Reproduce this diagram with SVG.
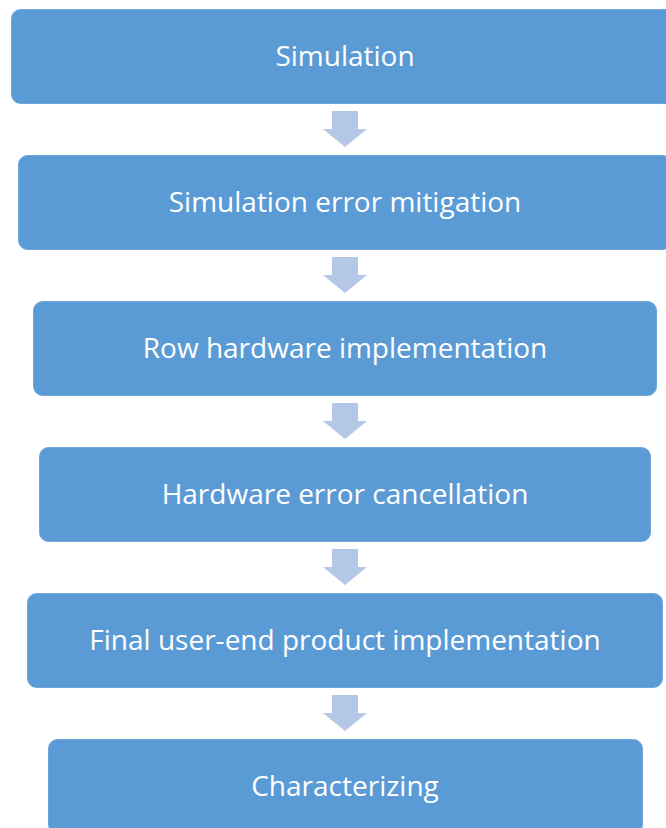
<svg xmlns="http://www.w3.org/2000/svg" width="666" height="828" viewBox="0 0 666 828">
<defs>
<style>
.box{fill:#5b9bd5;stroke:#6ea7dc;stroke-width:1}
.lbl{font-family:"Open Sans","Liberation Sans",sans-serif;font-size:28px;fill:#ffffff;text-anchor:middle;dominant-baseline:central}
.arr{fill:#b4c7e7}
</style>
<path id="arrow" class="arr" d="M-13,0 H13 V18 H22 L0,36 L-22,18 H-13 Z"/>
</defs>
<rect width="666" height="828" fill="#ffffff"/>
<g id="connectors">
<use href="#arrow" x="345" y="111"/>
<use href="#arrow" x="345" y="257"/>
<use href="#arrow" x="345" y="403"/>
<use href="#arrow" x="345" y="549"/>
<use href="#arrow" x="345" y="695"/>
</g>
<g id="n1"><rect class="box" x="11.5" y="9.5" width="667" height="94" rx="9"/><text class="lbl" x="345" y="55">Simulation</text></g>
<g id="n2"><rect class="box" x="18.5" y="155.5" width="653" height="94" rx="9"/><text class="lbl" x="345" y="201">Simulation error mitigation</text></g>
<g id="n3"><rect class="box" x="33.5" y="301.5" width="623" height="94" rx="9"/><text class="lbl" x="345" y="347">Row hardware implementation</text></g>
<g id="n4"><rect class="box" x="39.5" y="447.5" width="611" height="94" rx="9"/><text class="lbl" x="345" y="493">Hardware error cancellation</text></g>
<g id="n5"><rect class="box" x="27.5" y="593.5" width="635" height="94" rx="9"/><text class="lbl" x="345" y="639">Final user-end product implementation</text></g>
<g id="n6"><rect class="box" x="48.5" y="739.5" width="594" height="94" rx="9"/><text class="lbl" x="345" y="785">Characterizing</text></g>
</svg>
